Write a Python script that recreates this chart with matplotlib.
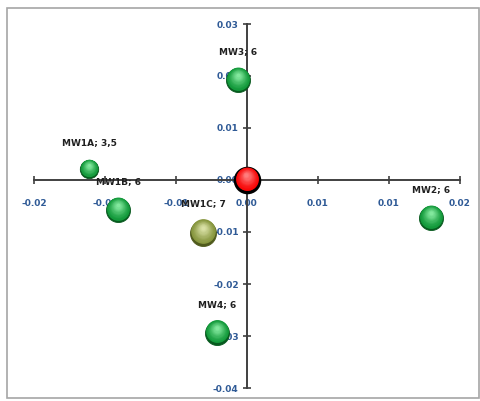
import numpy as np
import matplotlib
matplotlib.use("Agg")
import matplotlib.pyplot as plt
from matplotlib.colors import to_rgb
from matplotlib.patches import Rectangle
from matplotlib.ticker import FuncFormatter
from matplotlib.transforms import offset_copy

# well positions and bubble sizes
names = ["MW3", "MW1A", "MW1B", "MW1C", "MW2", "MW4"]
xs = [-0.0008, -0.0148, -0.0121, -0.0041, 0.0173, -0.0028]
ys = [0.0192, 0.0021, -0.0058, -0.0102, -0.0073, -0.0294]
sizes = [6, 3.5, 6, 7, 6, 6]
kinds = ["green", "green", "green", "olive", "green", "green"]

# reference point at the origin
ref_x, ref_y, ref_size = 0.0, 0.0, 6

x_ticks = np.linspace(-0.02, 0.02, 7)
y_ticks = np.arange(-0.04, 0.0301, 0.01)

palettes = {
    "green": ("#075a1e", "#139a3b", "#8ef0a8"),
    "olive": ("#4f5a1c", "#87963e", "#e2e8b0"),
    "red": ("#a00000", "#f80808", "#ff8a8a"),
}

S_SCALE = 50  # points^2 per size unit


def mix(c1, c2, t):
    a, b = np.array(to_rgb(c1)), np.array(to_rgb(c2))
    return tuple(a + (b - a) * t)


def sphere(ax, fig, x, y, size, kind, edge=None, edge_w=0.6, z=5):
    dark, mid, light = palettes[kind]
    s = size * S_SCALE
    r_pt = np.sqrt(s) / 2
    ax.scatter([x], [y], s=[s], color=dark,
               edgecolors=edge or dark, linewidths=edge_w, zorder=z)
    n = 16
    for k in range(n):
        t = k / n
        f = 0.9 * (1 - t) ** 1.3
        tr = offset_copy(ax.transData, fig=fig, x=-0.05 * r_pt * t,
                         y=0.12 * r_pt + 0.3 * r_pt * t, units="points")
        c = mix(mid, light, t ** 1.6)
        ax.scatter([x], [y], s=[s * f], color=c, linewidths=0,
                   transform=tr, zorder=z + (k + 1) * 0.01)
    return r_pt


fig = plt.figure(figsize=(4.81, 4.01), dpi=100)
fig.patches.append(Rectangle((7 / 481, 3 / 401), 472 / 481, 390 / 401,
                             transform=fig.transFigure, fill=False,
                             edgecolor="#a6a6a6", linewidth=1.2))

ax = fig.add_axes([34 / 481, 13 / 401, 426 / 481, 364 / 401])
ax.set_xlim(-0.02, 0.02)
ax.set_ylim(-0.04, 0.03)
ax.set_facecolor("none")

for side in ["top", "right"]:
    ax.spines[side].set_visible(False)
for side in ["left", "bottom"]:
    ax.spines[side].set_position(("data", 0))
    ax.spines[side].set_color("#404040")
    ax.spines[side].set_linewidth(1.4)

fmt = FuncFormatter(lambda v, p: f"{v:.2f}".replace("-0.00", "0.00"))
ax.set_xticks(x_ticks)
ax.set_yticks(y_ticks)
ax.xaxis.set_major_formatter(fmt)
ax.yaxis.set_major_formatter(fmt)
ax.tick_params(direction="inout", length=6, width=1.2, color="#404040",
               labelsize=6.5, labelcolor="#2f5a96")
ax.tick_params(axis="x", pad=11)
ax.tick_params(axis="y", pad=3)
for lbl in ax.get_xticklabels() + ax.get_yticklabels():
    lbl.set_fontweight("bold")

for name, x, y, size, kind in zip(names, xs, ys, sizes, kinds):
    r_pt = sphere(ax, fig, x, y, size, kind)
    size_txt = f"{size:g}".replace(".", ",")
    ax.annotate(f"{name}; {size_txt}", (x, y), xytext=(0, r_pt + 12),
                textcoords="offset points", ha="center", va="center",
                fontsize=6.5, fontweight="bold", color="#202020", zorder=10)

sphere(ax, fig, ref_x, ref_y, ref_size, "red", edge="#000000", edge_w=2.5)

fig.savefig("out.png", dpi=100)
